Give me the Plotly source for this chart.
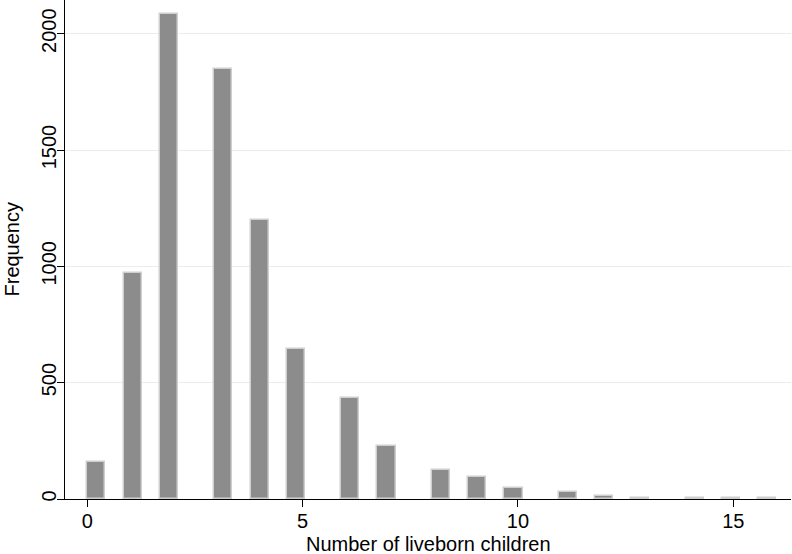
import plotly.graph_objects as go

# Data: number of liveborn children (value) and frequency
children = [0, 1, 2, 3, 4, 5, 6, 7, 8, 9, 10, 11, 12, 13, 14, 15, 16]
frequency = [158, 971, 2086, 1848, 1201, 646, 434, 226, 126, 95, 47, 28, 15, 6, 4, 4, 3]
x_ticks = [0, 5, 10, 15]
y_ticks = [0, 500, 1000, 1500, 2000]
x_title = "Number of liveborn children"
y_title = "Frequency"

# Histogram binning (Stata default: 38 bins over [0, 16])
n_bins = 38
x_min, x_max = 0, 16
bin_w = (x_max - x_min) / n_bins

bin_idx = [min((v - x_min) * n_bins // (x_max - x_min), n_bins - 1) for v in children]
centers = [x_min + (i + 0.5) * bin_w for i in bin_idx]

FONT = "Liberation Sans, Arial, Helvetica, sans-serif"

fig = go.Figure(
    go.Bar(
        x=centers,
        y=frequency,
        width=bin_w,
        marker=dict(color="#8c8c8c", line=dict(color="#cfcfcf", width=1.5)),
        hovertemplate="%{y}<extra></extra>",
    )
)

fig.update_layout(
    width=792,
    height=554,
    margin=dict(l=65, r=1, t=0, b=55, autoexpand=False),
    paper_bgcolor="white",
    plot_bgcolor="white",
    font=dict(family=FONT, size=20, color="black"),
    showlegend=False,
    bargap=0,
    annotations=[
        dict(
            text=x_title, xref="paper", yref="paper", x=0.5, y=0,
            xanchor="center", yanchor="middle", yshift=-45,
            showarrow=False, font=dict(size=20, color="black"),
        ),
        dict(
            text=y_title, xref="paper", yref="paper", x=0, y=0.5,
            xanchor="center", yanchor="middle", xshift=-54, textangle=-90,
            showarrow=False, font=dict(size=20, color="black"),
        ),
    ],
)

fig.update_xaxes(
    range=[-0.518, 16.34],
    tickvals=x_ticks,
    ticks="outside",
    ticklen=7,
    tickwidth=1,
    tickcolor="black",
    showline=True,
    linecolor="black",
    linewidth=1,
    showgrid=False,
    zeroline=False,
    automargin=False,
    tickfont=dict(size=20),
    ticklabelstandoff=-3,
)

fig.update_yaxes(
    range=[0, 2145],
    tickvals=y_ticks,
    tickangle=-90,
    ticks="outside",
    ticklen=7,
    tickwidth=1,
    tickcolor="black",
    showline=True,
    linecolor="black",
    linewidth=1,
    showgrid=True,
    gridcolor="#ececec",
    gridwidth=1,
    zeroline=False,
    automargin=False,
    tickfont=dict(size=20),
    ticklabelstandoff=-7,
)

fig.write_html(
    "out.html",
    config={"displayModeBar": False},
    post_script="document.body.style.margin='0';document.body.style.overflow='hidden';",
)
